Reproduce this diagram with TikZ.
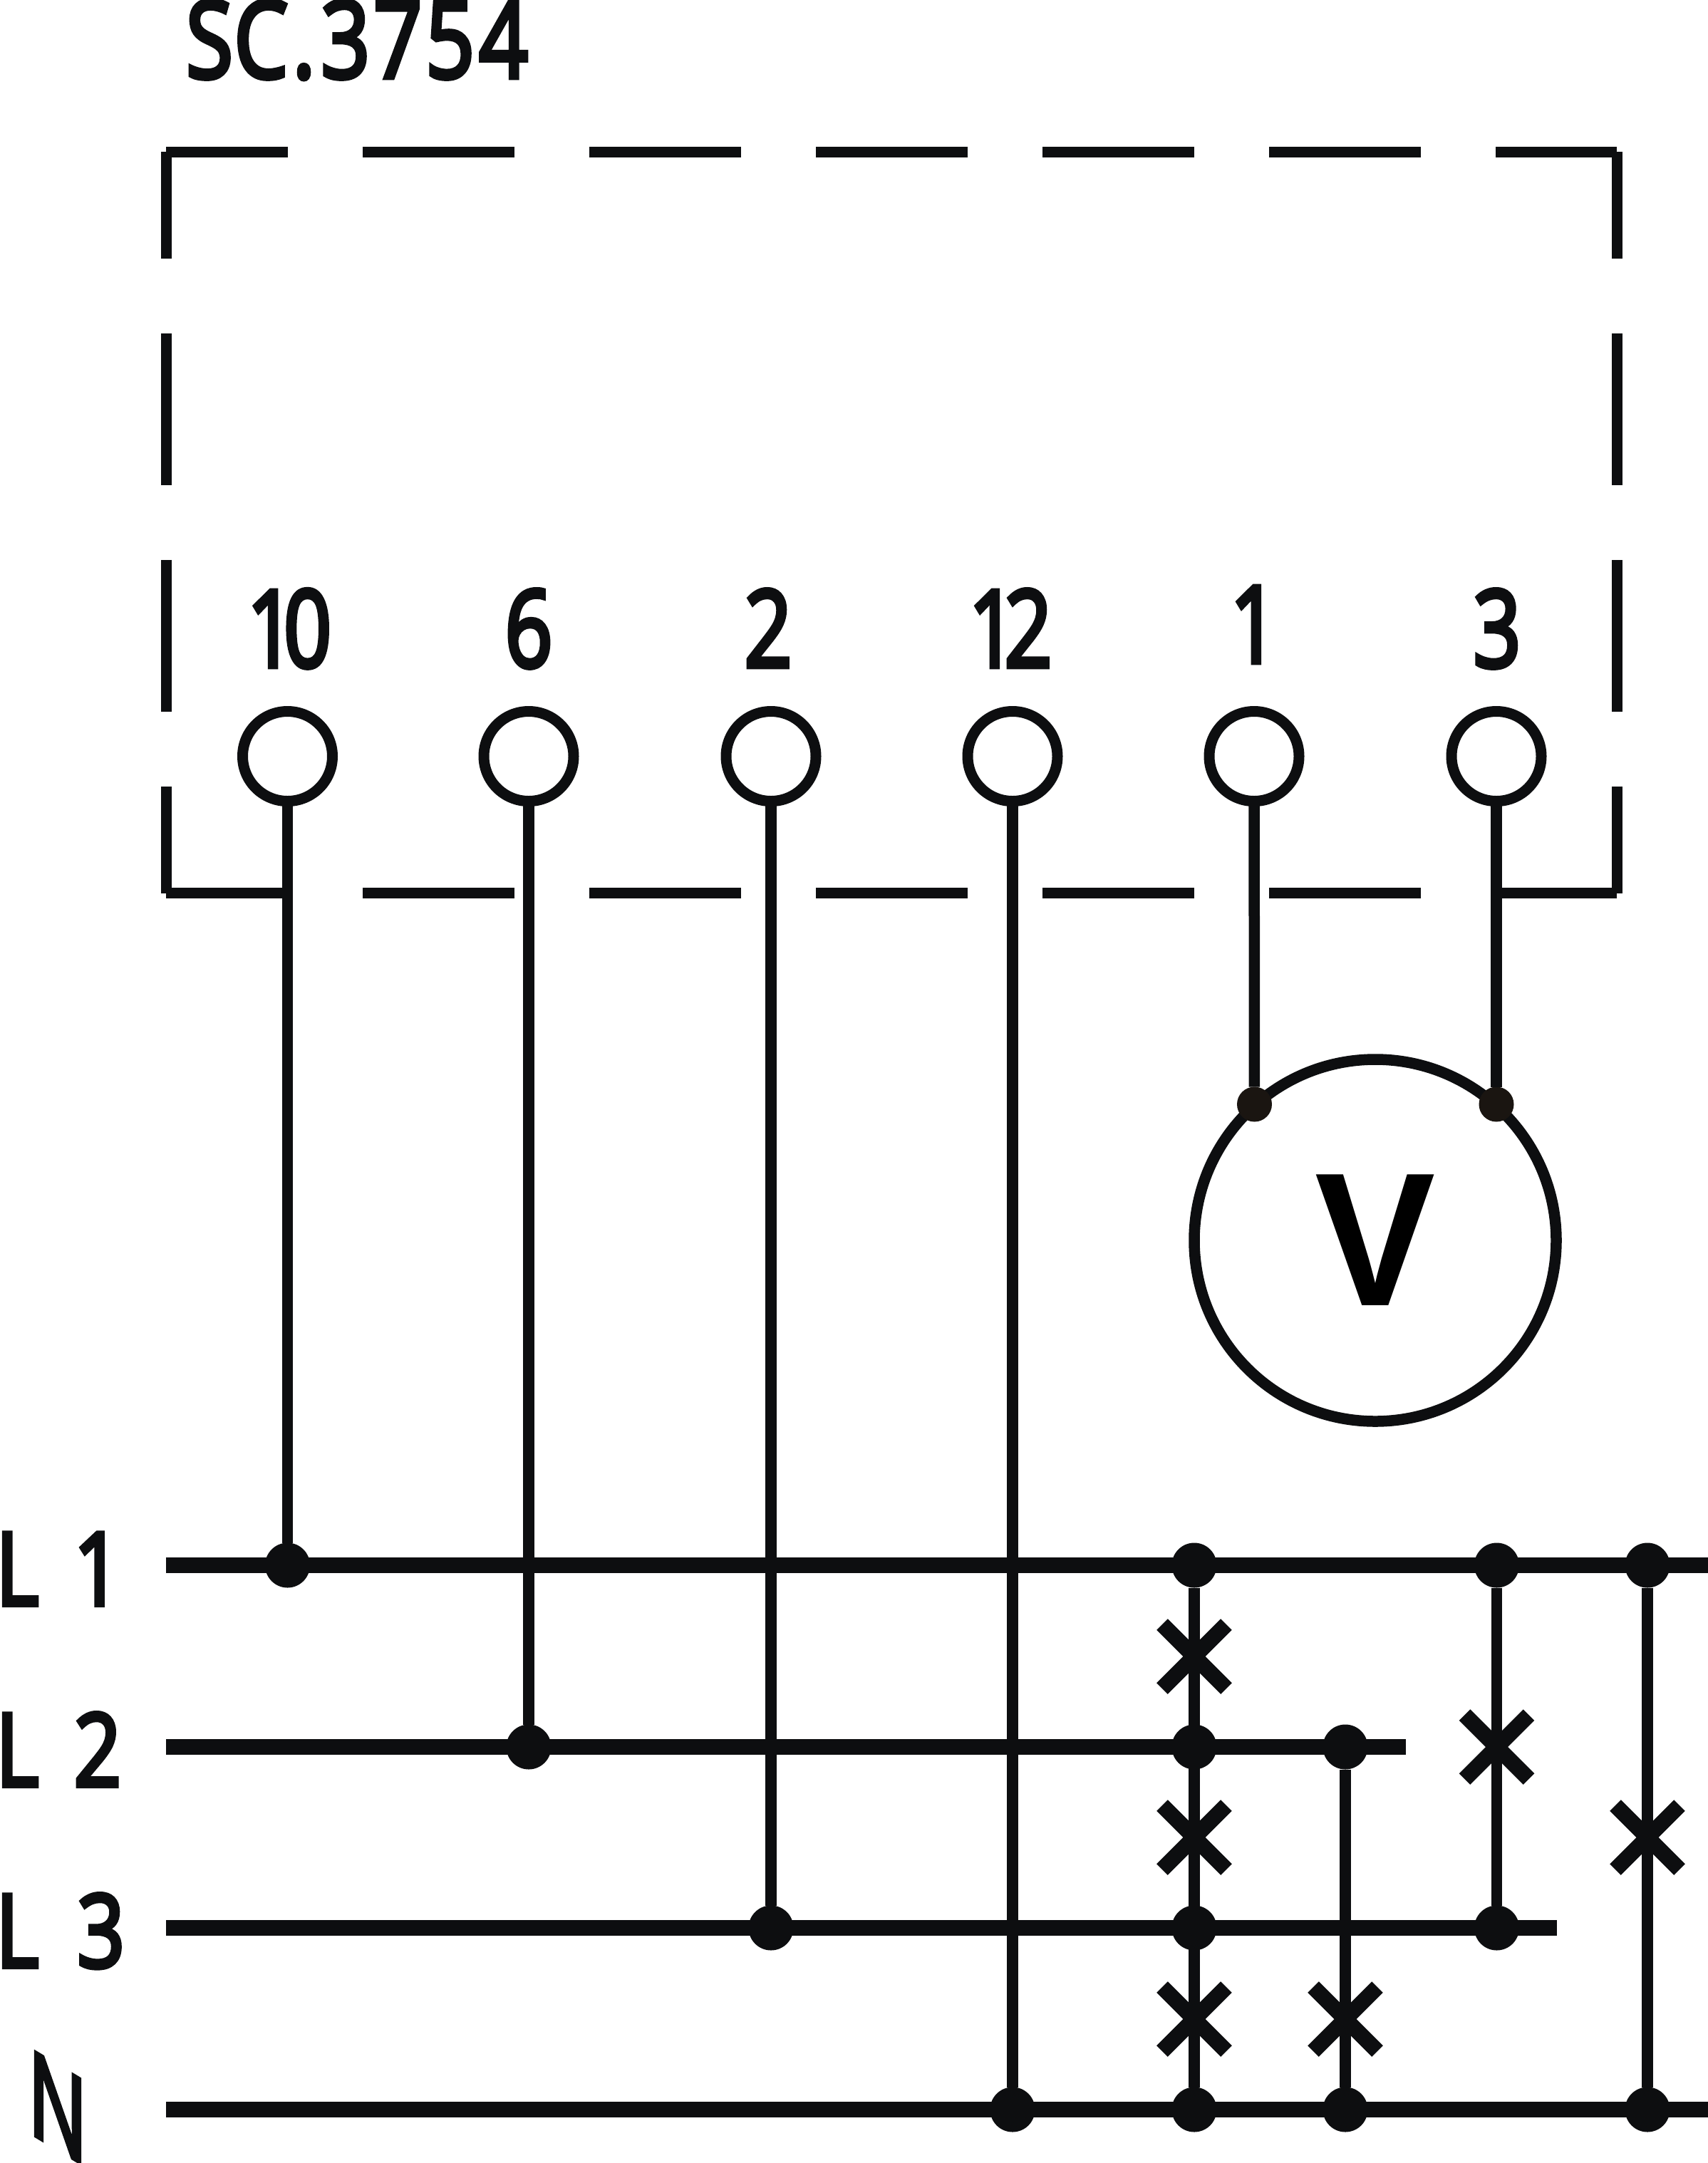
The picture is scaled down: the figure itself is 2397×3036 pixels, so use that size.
\documentclass[tikz,border=0pt]{standalone}
\usepackage{fontspec}
\usepackage{graphicx}
\setmainfont{Liberation Sans}
\newfontfamily\lblfont[FakeBold=4.5]{Open Sans}
\usetikzlibrary{shapes.misc}
\definecolor{ink}{HTML}{0D0E10}
\definecolor{stud}{HTML}{1A1511}
\tikzset{
  x=1pt,y=-1pt,
  boxhoriz/.style={draw=ink,line width=15pt,dash pattern=on 213pt off 105pt,dash phase=42pt},
  boxvert/.style={draw=ink,line width=15pt,dash pattern=on 213pt off 105pt,dash phase=63pt},
  bus/.style={draw=ink,line width=22.5pt},
  wire/.style={draw=ink,line width=15.5pt},
  terminal/.style={circle,draw=ink,fill=white,line width=15pt,minimum size=126pt,inner sep=0pt,outer sep=0pt},
  junction/.style={circle,fill=ink,minimum size=63pt,inner sep=0pt,outer sep=0pt},
  stud/.style={circle,fill=stud,minimum size=49pt,inner sep=0pt,outer sep=0pt},
  fuse/.style={cross out,draw=ink,line width=22pt,minimum size=90pt,inner sep=0pt,outer sep=0pt},
  meter/.style={circle,draw=ink,line width=15.5pt,minimum size=508pt,inner sep=0pt,outer sep=0pt,
    font=\fontsize{267}{267}\selectfont\bfseries},
  numlabel/.style={anchor=base,inner sep=0pt,outer sep=0pt,text=ink,xscale=0.78,font=\lblfont\fontsize{150}{150}\selectfont},
  titlelabel/.style={anchor=base,inner sep=0pt,outer sep=0pt,text=ink,xscale=0.8,font=\lblfont\fontsize{150}{150}\selectfont},
  linelabel/.style={anchor=base west,inner sep=0pt,outer sep=0pt,text=ink,xscale=0.82,font=\lblfont\fontsize{142}{142}\selectfont},
}
\begin{document}
\begin{tikzpicture}
\useasboundingbox (0,0) rectangle (2397,3036);
% enclosure corners
\coordinate (tl) at (233,213.5);
\coordinate (tr) at (2269,213.5);
\coordinate (bl) at (233,1253.5);
\coordinate (br) at (2269,1253.5);
\coordinate (ltop) at (233.5,213);
\coordinate (lbot) at (233.5,1254);
\coordinate (rtop) at (2269,213);
\coordinate (rbot) at (2269,1254);
\path[boxhoriz] (tl) -- (tr);
\path[boxhoriz] (bl) -- (br);
\path[boxvert] (ltop) -- (lbot);
\path[boxvert] (rtop) -- (rbot);
% bus ends
\coordinate (L1a) at (233,2197);
\coordinate (L1b) at (2397,2197);
\coordinate (L2a) at (233,2452);
\coordinate (L2b) at (1973,2452);
\coordinate (L3a) at (233,2706);
\coordinate (L3b) at (2185,2706);
\coordinate (Na) at (233,2961);
\coordinate (Nb) at (2397,2961);
\path[bus] (L1a) -- (L1b);
\path[bus] (L2a) -- (L2b);
\path[bus] (L3a) -- (L3b);
\path[bus] (Na) -- (Nb);
% terminals
\node[terminal] (t10) at (403.5,1061.5) {};
\node[terminal] (t6) at (742,1061.5) {};
\node[terminal] (t2) at (1082,1061.5) {};
\node[terminal] (t12) at (1421,1061.5) {};
\node[terminal] (t1) at (1760,1061.5) {};
\node[terminal] (t3) at (2100,1061.5) {};
% junctions
\node[junction] (j10) at (403.5,2197) {};
\node[junction] (j6) at (742,2452) {};
\node[junction] (j2) at (1082,2706) {};
\node[junction] (j12) at (1421,2961) {};
\node[junction] (a1) at (1676,2197) {};
\node[junction] (a2) at (1676,2452) {};
\node[junction] (a3) at (1676,2706) {};
\node[junction] (a4) at (1676,2961) {};
\node[junction] (b2) at (1888,2452) {};
\node[junction] (b4) at (1888,2961) {};
\node[junction] (c1) at (2100.5,2197) {};
\node[junction] (c3) at (2100.5,2706) {};
\node[junction] (e1) at (2312,2197) {};
\node[junction] (e4) at (2312,2961) {};
% voltmeter
\node[meter] (vm) at (1930,1741) {\scalebox{0.95}[1]{V}};
\node[stud] (s1) at (1760.5,1550) {};
\node[stud] (s3) at (2100,1550) {};
% connectors
\draw[wire] (t10) -- (j10);
\draw[wire] (t6) -- (j6);
\draw[wire] (t2) -- (j2);
\draw[wire] (t12) -- (j12);
\draw[wire] (t1) -- (s1);
\draw[wire] (t3) -- (s3);
\draw[wire] (a1) -- (a4);
\draw[wire] (b2) -- (b4);
\draw[wire] (c1) -- (c3);
\draw[wire] (e1) -- (e4);
% fuses
\node[fuse] (f1) at (1676,2325) {};
\node[fuse] (f2) at (1676,2579) {};
\node[fuse] (f3) at (1676,2834) {};
\node[fuse] (f4) at (1888,2834) {};
\node[fuse] (f5) at (2100.5,2452) {};
\node[fuse] (f6) at (2312,2579) {};
% labels
\node[titlelabel] (title) at (501,109) {S\kern2pt C\kern8pt .\kern10pt 3\kern6pt 7\kern6pt 5\kern8pt 4};
\node[numlabel] (n10) at (406,936) {1\kern-20pt 0};
\node[numlabel] (n6) at (742,936) {6};
\node[numlabel] (n2) at (1078,936) {2};
\node[numlabel] (n12) at (1418,936) {1\kern-22pt 2};
\node[numlabel] (n1) at (1760,930) {1};
\node[numlabel] (n3) at (2101,936) {3};
\node[linelabel] (l1) at (-6,2253) {L\hspace{60pt}1};
\node[linelabel] (l2) at (-6,2507) {L\hspace{60pt}2};
\node[linelabel] (l3) at (-6,2761) {L\hspace{66pt}3};
\node[inner sep=0pt,outer sep=0pt,text=ink,xscale=0.68,yslant=-0.41,font=\lblfont\fontsize{162}{162}\selectfont] (nn) at (81,2958) {N};
\end{tikzpicture}
\end{document}
